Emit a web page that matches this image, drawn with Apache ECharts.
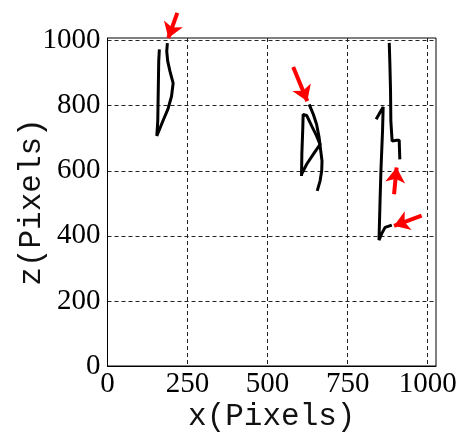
<!DOCTYPE html>
<html>
<head>
<meta charset="utf-8">
<script src="https://cdn.jsdelivr.net/npm/echarts@6/dist/echarts.min.js"></script>
<style>
  html, body { margin: 0; padding: 0; background: #fff; }
  #chart { width: 461px; height: 442px; }
</style>
</head>
<body>
<div id="chart"></div>
<script>
// axis ticks
var xTicks = [0, 250, 500, 750, 1000];
var yTicks = [0, 200, 400, 600, 800, 1000];

// traced curves, [x, z] in pixels
var curve1 = [[162, 973], [160, 937], [158, 814], [157, 753], [154, 707], [173, 753], [189, 790],
  [200, 829], [205, 869], [195, 906], [188, 937], [185, 967], [187, 992]];
var curve2a = [[630, 804], [643, 773], [653, 743], [661, 702], [666, 661], [670, 630], [669, 600],
  [664, 569], [655, 538]];
var curve2b = [[606, 584], [607, 651], [610, 732], [611, 773], [622, 770], [638, 737], [653, 707],
  [664, 681], [643, 651], [622, 620], [606, 589]];
var curve3a = [[880, 993], [882, 927], [884, 845], [885, 753], [889, 691], [903, 694], [911, 694],
  [913, 635]];
var curve3b = [[839, 758], [861, 796], [859, 722], [854, 600], [851, 498], [848, 387], [856, 406],
  [867, 426], [888, 433]];

// red arrows, [tail, head]
var arrows = [
  [[218, 1085], [190, 1008]],
  [[580, 919], [624, 814]],
  [[895, 528], [903, 610]],
  [[981, 462], [895, 431]]
];

var labelFont = "'Liberation Serif', 'DejaVu Serif', serif";
var nameFont = "'Liberation Mono', 'DejaVu Sans Mono', monospace";

function curveSeries(data) {
  return {
    type: "line",
    data: data,
    symbol: "none",
    lineStyle: { color: "#000", width: 3 },
    z: 3
  };
}

var myChart = echarts.init(document.getElementById("chart"));
myChart.setOption({
  backgroundColor: "#fff",
  animation: false,
  grid: {
    left: 107.5,
    right: 25,
    top: 38,
    bottom: 76,
    outerBoundsMode: "none",
    containLabel: false,
    show: true,
    borderColor: "#000",
    borderWidth: 1
  },
  xAxis: {
    type: "value",
    min: 0,
    max: 1026,
    interval: 250,
    name: "x(Pixels)",
    nameLocation: "middle",
    nameGap: 35,
    nameMoveOverlap: false,
    nameTextStyle: { fontFamily: nameFont, fontSize: 31, color: "#111" },
    axisLine: { show: true, lineStyle: { color: "#000", width: 1 } },
    axisTick: { show: false },
    axisLabel: {
      margin: 4,
      showMaxLabel: false,
      fontFamily: labelFont,
      fontSize: 29,
      color: "#000",
      formatter: function (v) { return xTicks.indexOf(v) >= 0 ? String(v) : ""; }
    },
    splitLine: {
      show: true,
      showMinLine: false,
      showMaxLine: false,
      lineStyle: { color: "#222", type: [4, 3], width: 1 }
    }
  },
  yAxis: {
    type: "value",
    min: 0,
    max: 1008,
    interval: 200,
    name: "z(Pixels)",
    nameLocation: "middle",
    nameGap: 60,
    nameMoveOverlap: false,
    nameTextStyle: { fontFamily: nameFont, fontSize: 31, color: "#111" },
    axisLine: { show: true, lineStyle: { color: "#000", width: 1 } },
    axisTick: { show: false },
    axisLabel: {
      margin: 7,
      showMaxLabel: false,
      fontFamily: labelFont,
      fontSize: 29,
      color: "#000",
      formatter: function (v) { return yTicks.indexOf(v) >= 0 ? String(v) : ""; }
    },
    splitLine: {
      show: true,
      showMinLine: false,
      showMaxLine: false,
      lineStyle: { color: "#222", type: [4, 3], width: 1 }
    }
  },
  series: [
    curveSeries(curve1),
    curveSeries(curve2a),
    curveSeries(curve2b),
    curveSeries(curve3a),
    curveSeries(curve3b),
    {
      type: "lines",
      coordinateSystem: "cartesian2d",
      clip: false,
      symbol: ["none", "arrow"],
      symbolSize: 15,
      lineStyle: { color: "#ff0000", width: 4, opacity: 1, curveness: 0 },
      data: arrows.map(function (a) { return { coords: a }; }),
      z: 4
    }
  ]
});
</script>
</body>
</html>
